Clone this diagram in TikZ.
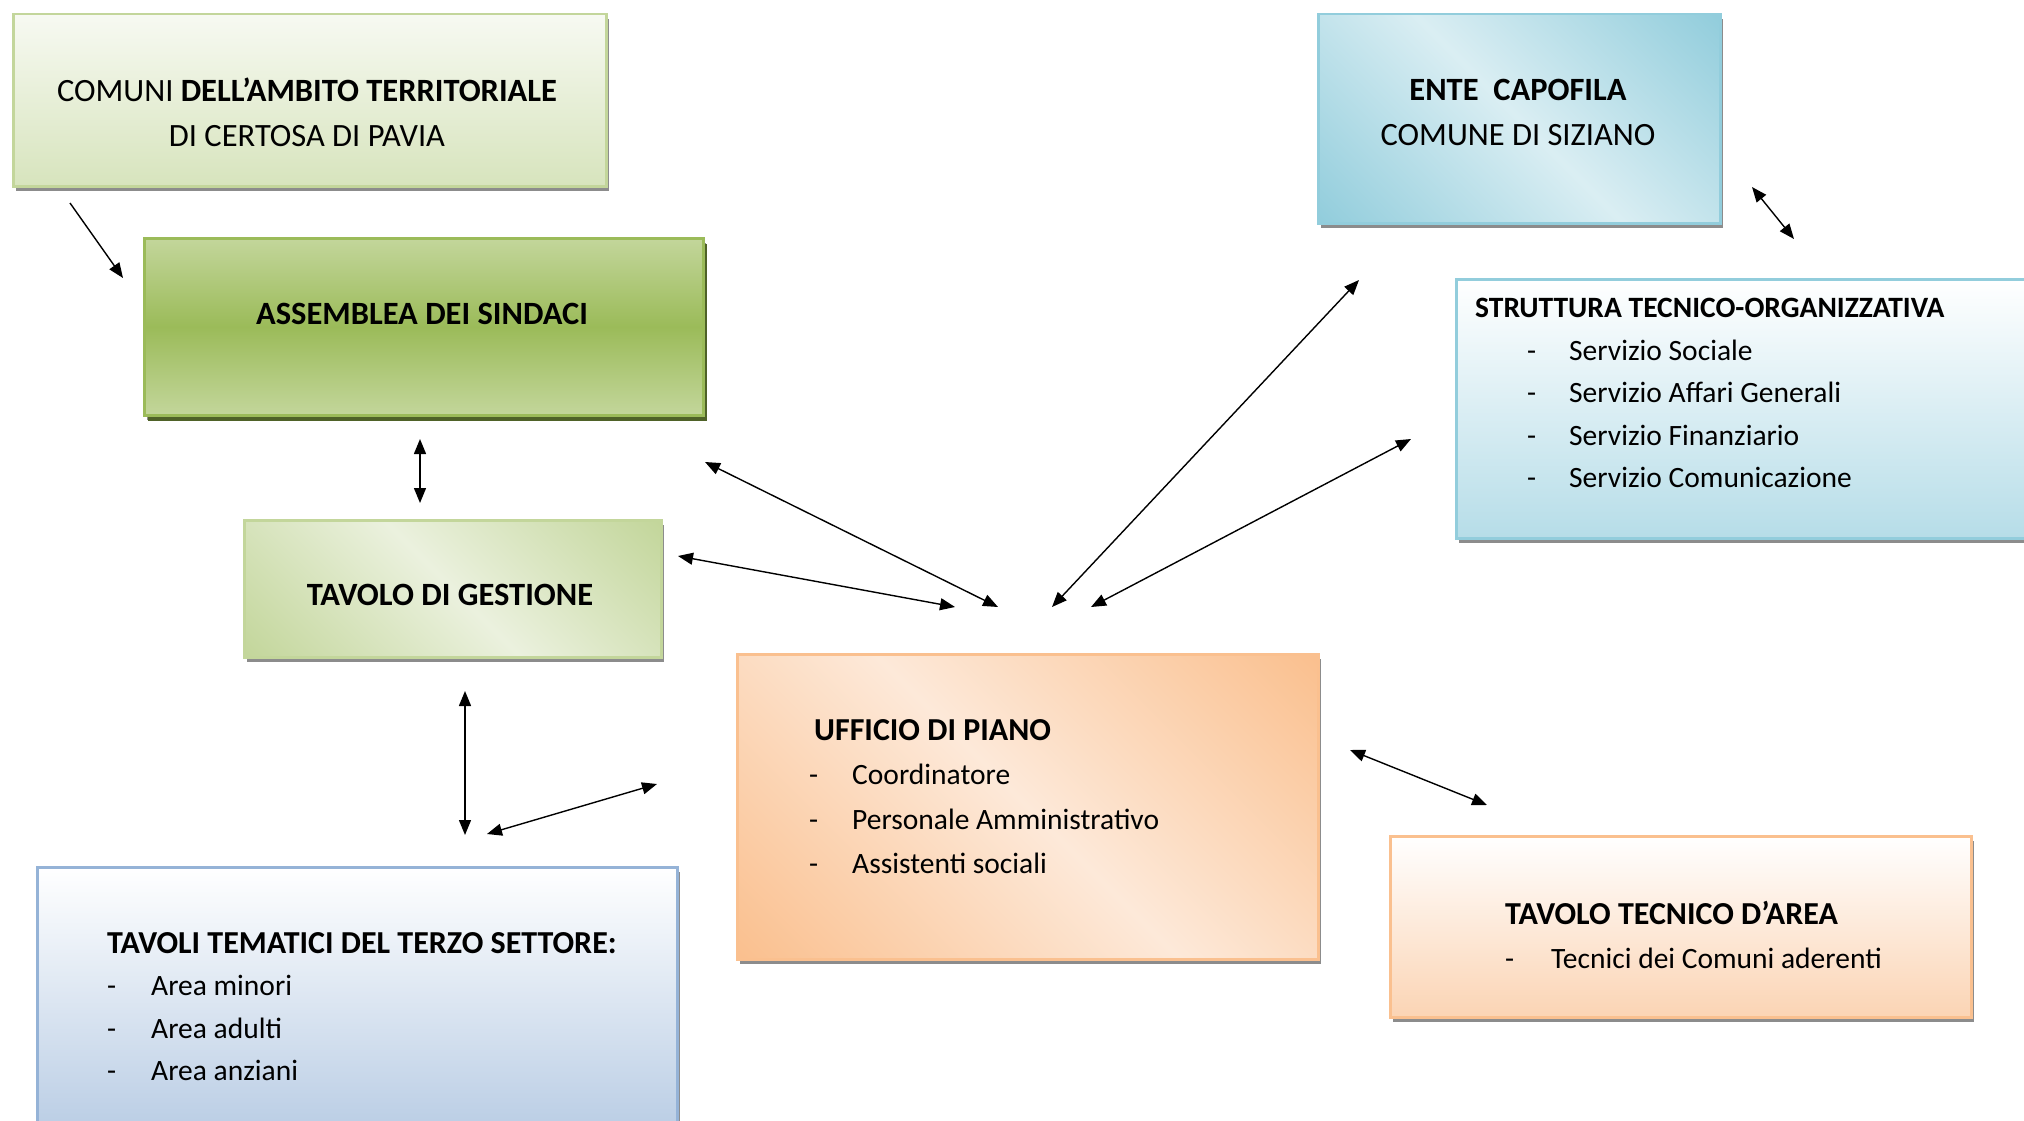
\documentclass[tikz,border=0pt]{standalone}
\usepackage{fontspec}
\setmainfont{Carlito}
\usetikzlibrary{shadows,arrows.meta}
\definecolor{gD}{HTML}{C3D69B}
\definecolor{gL}{HTML}{EBF1DE}
\definecolor{gM}{HTML}{9BBB59}
\definecolor{gS}{HTML}{4F6228}
\definecolor{gT}{HTML}{D7E4BD}
\definecolor{oD}{HTML}{FAC08F}
\definecolor{oL}{HTML}{FDE9D9}
\definecolor{oB}{HTML}{FBD4B4}
\definecolor{bD}{HTML}{92CDDC}
\definecolor{bL}{HTML}{DAEEF3}
\definecolor{bB}{HTML}{B6DDE8}
\definecolor{vB}{HTML}{B8CCE4}
\definecolor{vE}{HTML}{95B3D7}
\pgfdeclarehorizontalshading{diagG}{100bp}{color(0bp)=(gD); color(15bp)=(gD); color(50bp)=(gL); color(85bp)=(gD); color(100bp)=(gD)}
\pgfdeclarehorizontalshading{diagO}{100bp}{color(0bp)=(oD); color(15bp)=(oD); color(50bp)=(oL); color(85bp)=(oD); color(100bp)=(oD)}
\pgfdeclarehorizontalshading{diagB}{100bp}{color(0bp)=(bD); color(15bp)=(bD); color(50bp)=(bL); color(85bp)=(bD); color(100bp)=(bD)}
\newcommand{\bigtitle}[1]{{\fontsize{32}{44}\selectfont\bfseries #1}}
\begin{document}
\begin{tikzpicture}[x=1pt,y=-1pt,
  box/.style={anchor=north west, inner sep=0pt, line width=2.5pt,
    drop shadow={shadow xshift=3pt, shadow yshift=-5pt, fill=black!45, opacity=1}},
  bigtxt/.style={inner sep=0pt, font=\fontsize{32.5}{45}\selectfont},
  listtxt/.style={inner sep=0pt, align=left, anchor=north west, font=\fontsize{29.5}{#1}\selectfont},
  conn/.style={line width=1.4pt, {Triangle[length=15pt,width=12pt]}-{Triangle[length=15pt,width=12pt]}},
  one/.style={line width=1.4pt, -{Triangle[length=15pt,width=12pt]}}]
\useasboundingbox (0,0) rectangle (2024,1121);
% boxes
\node[box, draw=gD, top color=gL!40!white, bottom color=gT, minimum width=593pt, minimum height=172pt] (comuni) at (12,13) {};
\node[box, draw=gM, top color=gD, bottom color=gD, middle color=gM,
  drop shadow={shadow xshift=4pt, shadow yshift=-6pt, fill=gS, opacity=1},
  minimum width=559pt, minimum height=177pt] (assem) at (143,237) {};
\node[box, draw=gD, shading=diagG, shading angle=45, minimum width=417pt, minimum height=137pt] (gest) at (243,519) {};
\node[box, draw=vE, top color=white, bottom color=vB, minimum width=640pt, minimum height=270pt] (temat) at (36,866) {};
\node[box, draw=oD, shading=diagO, shading angle=45, minimum width=581pt, minimum height=305pt] (uffic) at (736,653) {};
\node[box, draw=oD, top color=white, bottom color=oB, minimum width=581pt, minimum height=181pt] (tecn) at (1389,835) {};
\node[box, draw=bD, shading=diagB, shading angle=45, minimum width=402pt, minimum height=209pt] (ente) at (1317,13) {};
\node[box, draw=bD, top color=white, bottom color=bB, minimum width=600pt, minimum height=259pt] (strut) at (1455,278) {};
% texts
\node[bigtxt, align=center] (comunitxt) at (307,112) {COMUNI \textbf{DELL’AMBITO TERRITORIALE}\\DI CERTOSA DI PAVIA};
\node[bigtxt] (assemtxt) at (422,314) {\textbf{ASSEMBLEA DEI SINDACI}};
\node[bigtxt] (gesttxt) at (450,595) {\textbf{TAVOLO DI GESTIONE}};
\node[bigtxt, align=center] (entetxt) at (1518,112) {\textbf{ENTE\ \ CAPOFILA}\\COMUNE DI SIZIANO};
\node[listtxt=42.6] (struttxt) at (1475,298)
  {\textbf{STRUTTURA TECNICO-ORGANIZZATIVA}\\
   \hspace*{52pt}\makebox[42pt][l]{-}Servizio Sociale\\
   \hspace*{52pt}\makebox[42pt][l]{-}Servizio Affari Generali\\
   \hspace*{52pt}\makebox[42pt][l]{-}Servizio Finanziario\\
   \hspace*{52pt}\makebox[42pt][l]{-}Servizio Comunicazione};
\node[listtxt=44.5] (uffictxt) at (814,719)
  {\bigtitle{UFFICIO DI PIANO}\\
   \hspace*{-5pt}\makebox[43pt][l]{-}Coordinatore\\
   \hspace*{-5pt}\makebox[43pt][l]{-}Personale Amministrativo\\
   \hspace*{-5pt}\makebox[43pt][l]{-}Assistenti sociali};
\node[listtxt=44] (tecntxt) at (1505,901)
  {\bigtitle{TAVOLO TECNICO D’AREA}\\
   \makebox[46pt][l]{-}Tecnici dei Comuni aderenti};
\node[listtxt=42.6] (tematxt) at (107,932)
  {\bigtitle{TAVOLI TEMATICI DEL TERZO SETTORE:}\\
   \makebox[44pt][l]{-}Area minori\\
   \makebox[44pt][l]{-}Area adulti\\
   \makebox[44pt][l]{-}Area anziani};
% connector end points
\coordinate (p1a) at (70,203);   \coordinate (p1b) at (123,278);
\coordinate (p2a) at (420,439);  \coordinate (p2b) at (420,503);
\coordinate (p3a) at (705,462);  \coordinate (p3b) at (998,607);
\coordinate (p4a) at (678,556);  \coordinate (p4b) at (955,607);
\coordinate (p5a) at (1052,607); \coordinate (p5b) at (1359,280);
\coordinate (p6a) at (1091,607); \coordinate (p6b) at (1411,439);
\coordinate (p7a) at (1752,187); \coordinate (p7b) at (1794,239);
\coordinate (p8a) at (465,691);  \coordinate (p8b) at (465,835);
\coordinate (p9a) at (487,834);  \coordinate (p9b) at (657,784);
\coordinate (p10a) at (1350,750); \coordinate (p10b) at (1487,805);
\draw[one] (p1a) -- (p1b);
\draw[conn] (p2a) -- (p2b);
\draw[conn] (p3a) -- (p3b);
\draw[conn] (p4a) -- (p4b);
\draw[conn] (p5a) -- (p5b);
\draw[conn] (p6a) -- (p6b);
\draw[conn] (p7a) -- (p7b);
\draw[conn] (p8a) -- (p8b);
\draw[conn] (p9a) -- (p9b);
\draw[conn] (p10a) -- (p10b);
\end{tikzpicture}
\end{document}
